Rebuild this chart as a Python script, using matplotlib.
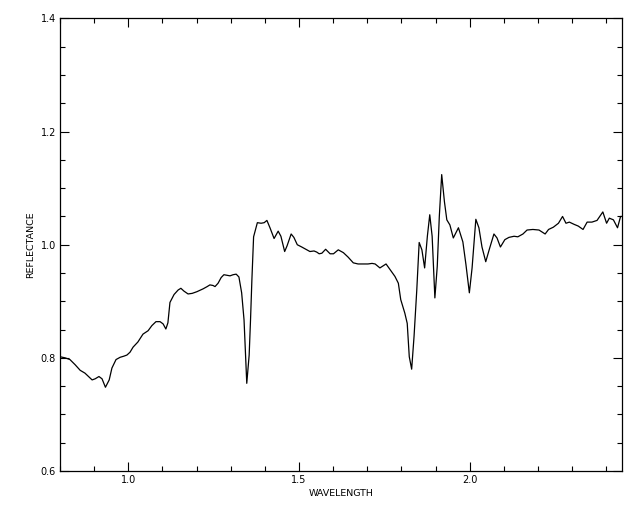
import numpy as np
import matplotlib
matplotlib.use("Agg")
import matplotlib.pyplot as plt
from matplotlib.ticker import MultipleLocator

# spectrum
wavelength = [0.800, 0.815, 0.829, 0.844, 0.859, 0.873, 0.885, 0.894, 0.903, 0.914,
              0.923, 0.933, 0.944, 0.952, 0.964, 0.976, 0.987, 0.996, 1.005, 1.014,
              1.028, 1.043, 1.058, 1.069, 1.081, 1.093, 1.102, 1.110, 1.116, 1.122,
              1.134, 1.146, 1.154, 1.163, 1.175, 1.187, 1.201, 1.219, 1.231, 1.239,
              1.248, 1.254, 1.263, 1.272, 1.280, 1.289, 1.298, 1.307, 1.316, 1.324,
              1.332, 1.339, 1.347, 1.354, 1.358, 1.362, 1.367, 1.378, 1.389, 1.398,
              1.406, 1.415, 1.427, 1.439, 1.447, 1.458, 1.465, 1.477, 1.485, 1.495,
              1.508, 1.523, 1.532, 1.544, 1.552, 1.559, 1.567, 1.578, 1.591, 1.601,
              1.615, 1.630, 1.644, 1.659, 1.673, 1.688, 1.702, 1.714, 1.723, 1.737,
              1.755, 1.767, 1.781, 1.791, 1.798, 1.810, 1.817, 1.823, 1.830, 1.837,
              1.845, 1.852, 1.860, 1.868, 1.876, 1.883, 1.890, 1.898, 1.905, 1.911,
              1.918, 1.926, 1.933, 1.942, 1.952, 1.967, 1.980, 1.989, 1.999, 2.007,
              2.018, 2.027, 2.036, 2.047, 2.058, 2.071, 2.080, 2.090, 2.103, 2.115,
              2.130, 2.141, 2.156, 2.168, 2.185, 2.203, 2.221, 2.231, 2.245, 2.260,
              2.272, 2.282, 2.292, 2.306, 2.318, 2.332, 2.344, 2.358, 2.373, 2.390,
              2.401, 2.409, 2.421, 2.433, 2.442, 2.446]
reflectance = [0.802, 0.800, 0.797, 0.788, 0.778, 0.773, 0.766, 0.761, 0.763, 0.767,
               0.763, 0.748, 0.761, 0.782, 0.797, 0.801, 0.803, 0.805, 0.810, 0.819,
               0.828, 0.842, 0.848, 0.857, 0.864, 0.864, 0.860, 0.851, 0.862, 0.898,
               0.912, 0.920, 0.923, 0.918, 0.913, 0.914, 0.917, 0.922, 0.926, 0.929,
               0.928, 0.926, 0.932, 0.942, 0.947, 0.946, 0.945, 0.947, 0.948, 0.943,
               0.915, 0.867, 0.755, 0.805, 0.867, 0.938, 1.014, 1.039, 1.038, 1.039,
               1.043, 1.030, 1.011, 1.024, 1.015, 0.988, 0.998, 1.019, 1.013, 1.000,
               0.996, 0.991, 0.988, 0.989, 0.987, 0.984, 0.985, 0.992, 0.984, 0.984,
               0.991, 0.986, 0.978, 0.968, 0.966, 0.966, 0.966, 0.967, 0.966, 0.959,
               0.966, 0.956, 0.944, 0.932, 0.903, 0.879, 0.861, 0.802, 0.780, 0.838,
               0.920, 1.004, 0.991, 0.959, 1.015, 1.053, 1.015, 0.906, 0.962, 1.050,
               1.124, 1.076, 1.044, 1.035, 1.012, 1.030, 1.005, 0.965, 0.915, 0.959,
               1.045, 1.030, 0.996, 0.970, 0.993, 1.019, 1.012, 0.996, 1.009, 1.013,
               1.015, 1.014, 1.019, 1.026, 1.027, 1.026, 1.019, 1.027, 1.031, 1.038,
               1.050, 1.038, 1.040, 1.036, 1.033, 1.027, 1.040, 1.040, 1.043, 1.058,
               1.038, 1.047, 1.044, 1.030, 1.050, 1.050]

fig = plt.figure(figsize=(6.4, 5.12), dpi=100)
ax = fig.add_axes([0.0938, 0.0801, 0.878, 0.8838])

ax.plot(wavelength, reflectance, color='black', linewidth=0.9)

ax.set_xlim(0.8, 2.446)
ax.set_ylim(0.6, 1.4)
ax.xaxis.set_major_locator(MultipleLocator(0.5))
ax.xaxis.set_minor_locator(MultipleLocator(0.1))
ax.yaxis.set_major_locator(MultipleLocator(0.2))
ax.yaxis.set_minor_locator(MultipleLocator(0.05))
ax.xaxis.set_major_formatter(plt.FormatStrFormatter('%.1f'))
ax.yaxis.set_major_formatter(plt.FormatStrFormatter('%.1f'))

ax.tick_params(which='both', direction='in', top=True, right=True,
               width=0.8, labelsize=7, colors='black')
ax.tick_params(which='major', length=6.5, pad=3)
ax.tick_params(which='minor', length=3.5)
for s in ax.spines.values():
    s.set_linewidth(0.9)

ax.set_xlabel("WAVELENGTH", fontsize=6.8, labelpad=3)
ax.set_ylabel("REFLECTANCE", fontsize=6.8, labelpad=4)

fig.savefig("out.png", dpi=100, facecolor='white')
